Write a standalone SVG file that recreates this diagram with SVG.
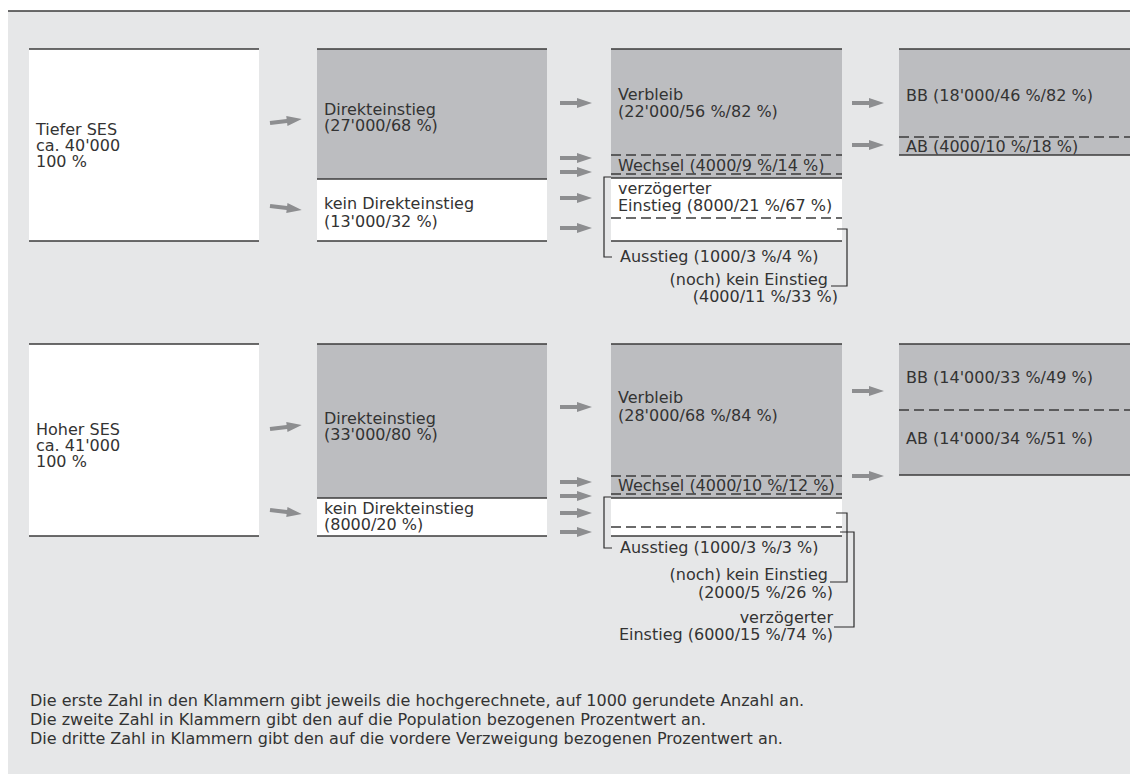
<svg xmlns="http://www.w3.org/2000/svg" width="1130" height="774" viewBox="0 0 1130 774">
<style>
.t{font-family:"DejaVu Sans","Liberation Sans",sans-serif;font-size:16px;fill:#333333}
.f{font-family:"DejaVu Sans","Liberation Sans",sans-serif;font-size:16px;fill:#333333}
.r{text-anchor:end}
.ln{stroke:#3b3b3b;stroke-width:1.6;fill:none}
.ds{stroke:#3b3b3b;stroke-width:1.3;stroke-dasharray:10 5;fill:none}
.br{fill:none;stroke:#2a2a2a;stroke-width:1.2}
.wh{fill:#ffffff}
.gr{fill:#bcbdc0}
.ar{fill:#8d8e90}
</style>
<defs>
<path id="arr" d="M0,-2 H17 V-5 L32,0 L17,5 V2 H0 Z"/>
</defs>
<rect x="8" y="11" width="1122" height="763" fill="#e6e7e8"/>
<line x1="8" y1="11" x2="1130" y2="11" class="ln"/>

<!-- top group -->
<g id="n-tiefer">
<rect x="29" y="49" width="230" height="192" class="wh"/>
<line x1="29" y1="49" x2="259" y2="49" class="ln"/>
<line x1="29" y1="241" x2="259" y2="241" class="ln"/>
<text class="t" x="36" y="135">Tiefer SES</text>
<text class="t" x="36" y="151">ca. 40'000</text>
<text class="t" x="36" y="167">100 %</text>
</g>
<g id="n-direkt1">
<rect x="317" y="49" width="230" height="130" class="gr"/>
<line x1="317" y1="49" x2="547" y2="49" class="ln"/>
<text class="t" x="324" y="115">Direkteinstieg</text>
<text class="t" x="324" y="131">(27'000/68 %)</text>
</g>
<g id="n-kein1">
<rect x="317" y="179" width="230" height="62" class="wh"/>
<line x1="317" y1="179" x2="547" y2="179" class="ln"/>
<line x1="317" y1="241" x2="547" y2="241" class="ln"/>
<text class="t" x="324" y="209">kein Direkteinstieg</text>
<text class="t" x="324" y="227">(13'000/32 %)</text>
</g>
<g id="n-verbleib1">
<rect x="611" y="49" width="231" height="129" class="gr"/>
<line x1="611" y1="49" x2="842" y2="49" class="ln"/>
<text class="t" x="618" y="100">Verbleib</text>
<text class="t" x="618" y="117">(22'000/56 %/82 %)</text>
</g>
<g id="n-wechsel1">
<line x1="611" y1="155" x2="842" y2="155" class="ds"/>
<text class="t" x="618" y="171">Wechsel (4000/9 %/14 %)</text>
<line x1="611" y1="174" x2="842" y2="174" class="ds"/>
</g>
<g id="n-verz1">
<rect x="611" y="178" width="231" height="63" class="wh"/>
<line x1="611" y1="178" x2="842" y2="178" class="ln"/>
<text class="t" x="618" y="194">verzögerter</text>
<text class="t" x="618" y="211">Einstieg (8000/21 %/67 %)</text>
<line x1="611" y1="218" x2="842" y2="218" class="ds"/>
<line x1="611" y1="241" x2="842" y2="241" class="ln"/>
</g>
<g id="n-ausstieg1">
<path d="M611,177 H604 V257 H612" class="br"/>
<text class="t" x="620" y="262">Ausstieg (1000/3 %/4 %)</text>
</g>
<g id="n-noch1">
<path d="M837,229 H847 V286 H831" class="br"/>
<text class="t r" x="828" y="285">(noch) kein Einstieg</text>
<text class="t r" x="838" y="302">(4000/11 %/33 %)</text>
</g>
<g id="n-bb1">
<rect x="899" y="49" width="231" height="106" class="gr"/>
<line x1="899" y1="49" x2="1130" y2="49" class="ln"/>
<text class="t" x="906" y="101">BB (18'000/46 %/82 %)</text>
</g>
<g id="n-ab1">
<line x1="899" y1="137" x2="1130" y2="137" class="ds"/>
<text class="t" x="906" y="152">AB (4000/10 %/18 %)</text>
<line x1="899" y1="155" x2="1130" y2="155" class="ln"/>
</g>

<!-- bottom group -->
<g id="n-hoher">
<rect x="29" y="344" width="230" height="192" class="wh"/>
<line x1="29" y1="344" x2="259" y2="344" class="ln"/>
<line x1="29" y1="536" x2="259" y2="536" class="ln"/>
<text class="t" x="36" y="435">Hoher SES</text>
<text class="t" x="36" y="451">ca. 41'000</text>
<text class="t" x="36" y="467">100 %</text>
</g>
<g id="n-direkt2">
<rect x="317" y="344" width="230" height="154" class="gr"/>
<line x1="317" y1="344" x2="547" y2="344" class="ln"/>
<text class="t" x="324" y="424">Direkteinstieg</text>
<text class="t" x="324" y="440">(33'000/80 %)</text>
</g>
<g id="n-kein2">
<rect x="317" y="498" width="230" height="38" class="wh"/>
<line x1="317" y1="498" x2="547" y2="498" class="ln"/>
<line x1="317" y1="536" x2="547" y2="536" class="ln"/>
<text class="t" x="324" y="514">kein Direkteinstieg</text>
<text class="t" x="324" y="530">(8000/20 %)</text>
</g>
<g id="n-verbleib2">
<rect x="611" y="344" width="231" height="154" class="gr"/>
<line x1="611" y1="344" x2="842" y2="344" class="ln"/>
<text class="t" x="618" y="403">Verbleib</text>
<text class="t" x="618" y="421">(28'000/68 %/84 %)</text>
</g>
<g id="n-wechsel2">
<line x1="611" y1="476" x2="842" y2="476" class="ds"/>
<text class="t" x="618" y="491">Wechsel (4000/10 %/12 %)</text>
<line x1="611" y1="494" x2="842" y2="494" class="ds"/>
</g>
<g id="n-rest2">
<rect x="611" y="498" width="231" height="38" class="wh"/>
<line x1="611" y1="498" x2="842" y2="498" class="ln"/>
<line x1="611" y1="527" x2="842" y2="527" class="ds"/>
<line x1="611" y1="536" x2="842" y2="536" class="ln"/>
</g>
<g id="n-ausstieg2">
<path d="M611,497 H604 V548 H612" class="br"/>
<text class="t" x="620" y="553">Ausstieg (1000/3 %/3 %)</text>
</g>
<g id="n-noch2">
<path d="M836,513 H847 V582 H830" class="br"/>
<text class="t r" x="828" y="580">(noch) kein Einstieg</text>
<text class="t r" x="833" y="598">(2000/5 %/26 %)</text>
</g>
<g id="n-verz2">
<path d="M840,532 H854 V627 H834" class="br"/>
<text class="t r" x="833" y="623">verzögerter</text>
<text class="t r" x="833" y="640">Einstieg (6000/15 %/74 %)</text>
</g>
<g id="n-bb2">
<rect x="899" y="344" width="231" height="131" class="gr"/>
<line x1="899" y1="344" x2="1130" y2="344" class="ln"/>
<text class="t" x="906" y="383">BB (14'000/33 %/49 %)</text>
</g>
<g id="n-ab2">
<line x1="899" y1="410" x2="1130" y2="410" class="ds"/>
<text class="t" x="906" y="444">AB (14'000/34 %/51 %)</text>
<line x1="899" y1="475" x2="1130" y2="475" class="ln"/>
</g>

<!-- connectors -->
<g id="connectors" class="ar">
<use href="#arr" transform="translate(270,123) rotate(-7)"/>
<use href="#arr" transform="translate(270,206) rotate(7)"/>
<use href="#arr" transform="translate(560,103)"/>
<use href="#arr" transform="translate(560,158)"/>
<use href="#arr" transform="translate(560,172)"/>
<use href="#arr" transform="translate(560,198)"/>
<use href="#arr" transform="translate(560,228)"/>
<use href="#arr" transform="translate(852,103)"/>
<use href="#arr" transform="translate(852,145)"/>
<use href="#arr" transform="translate(270,429) rotate(-7)"/>
<use href="#arr" transform="translate(270,510) rotate(7)"/>
<use href="#arr" transform="translate(560,407)"/>
<use href="#arr" transform="translate(560,482)"/>
<use href="#arr" transform="translate(560,496)"/>
<use href="#arr" transform="translate(560,513)"/>
<use href="#arr" transform="translate(560,532)"/>
<use href="#arr" transform="translate(852,391)"/>
<use href="#arr" transform="translate(852,476)"/>
</g>

<g id="footnote">
<text class="f" x="30" y="706">Die erste Zahl in den Klammern gibt jeweils die hochgerechnete, auf 1000 gerundete Anzahl an.</text>
<text class="f" x="30" y="725">Die zweite Zahl in Klammern gibt den auf die Population bezogenen Prozentwert an.</text>
<text class="f" x="30" y="744">Die dritte Zahl in Klammern gibt den auf die vordere Verzweigung bezogenen Prozentwert an.</text>
</g>
</svg>
